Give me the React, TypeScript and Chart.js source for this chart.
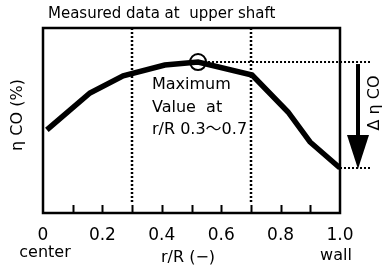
import React, { useEffect, useRef } from "react";
import { Chart, registerables } from "chart.js";

Chart.register(...registerables);

// ---- data ----
const radialPositions = [0.013, 0.158, 0.27, 0.41, 0.522, 0.704, 0.825, 0.899, 1.0];
const etaCO = [44.9, 64.9, 74.1, 80.0, 81.6, 74.6, 54.6, 38.4, 24.3];
const xTickLabels = [0, 0.2, 0.4, 0.6, 0.8, 1.0];
const minorTicks = [0.1, 0.2, 0.3, 0.4, 0.5, 0.6, 0.7, 0.8, 0.9];
const zoneBounds = [0.3, 0.7];
const titleText = "Measured data at  upper shaft";
const yAxisTitle = "η CO (%)";
const xAxisTitle = "r/R (−)";
const xEndLabels = ["center", "wall"];
const noteLines = ["Maximum", "Value  at", "r/R 0.3～0.7"];
const deltaLabel = "Δ η CO";

const FONT = "'DejaVu Sans', 'Noto Sans CJK JP', sans-serif";

const peakIndex = etaCO.indexOf(Math.max(...etaCO));

const decorPlugin = {
  id: "decor",
  beforeDatasetsDraw(chart: any) {
    const { ctx, chartArea: a, scales } = chart;
    const xs = scales.x;
    ctx.save();
    ctx.strokeStyle = "#000";
    ctx.lineWidth = 2.5;
    ctx.setLineDash([]);
    ctx.strokeRect(a.left, a.top, a.right - a.left, a.bottom - a.top);
    ctx.lineWidth = 2;
    minorTicks.forEach((v) => {
      const px = Math.round(xs.getPixelForValue(v)) + 0.5;
      ctx.beginPath();
      ctx.moveTo(px, a.bottom);
      ctx.lineTo(px, a.bottom - 8);
      ctx.stroke();
    });
    ctx.lineWidth = 2.5;
    ctx.setLineDash([2, 2]);
    zoneBounds.forEach((v) => {
      const px = Math.round(xs.getPixelForValue(v));
      ctx.beginPath();
      ctx.moveTo(px, a.top);
      ctx.lineTo(px, a.bottom - 9);
      ctx.stroke();
    });
    ctx.restore();
  },
  afterDraw(chart: any) {
    const { ctx, chartArea: a, scales } = chart;
    const xs = scales.x;
    const ys = scales.y;
    const peakX = xs.getPixelForValue(radialPositions[peakIndex]);
    const peakY = ys.getPixelForValue(etaCO[peakIndex]);
    const wallY = ys.getPixelForValue(etaCO[etaCO.length - 1]);
    const ext = a.right + 30;
    ctx.save();
    ctx.strokeStyle = "#000";
    ctx.fillStyle = "#000";
    ctx.lineWidth = 2;
    ctx.setLineDash([2, 2]);
    ctx.beginPath();
    ctx.moveTo(peakX + 10, Math.round(peakY));
    ctx.lineTo(ext, Math.round(peakY));
    ctx.moveTo(a.right, Math.round(wallY));
    ctx.lineTo(ext, Math.round(wallY));
    ctx.stroke();
    ctx.setLineDash([]);
    const ax = a.right + 18;
    ctx.lineWidth = 4;
    ctx.beginPath();
    ctx.moveTo(ax, peakY + 2);
    ctx.lineTo(ax, wallY - 30);
    ctx.stroke();
    ctx.beginPath();
    ctx.moveTo(ax - 11, wallY - 33);
    ctx.lineTo(ax + 11, wallY - 33);
    ctx.lineTo(ax, wallY + 1);
    ctx.closePath();
    ctx.fill();

    ctx.textBaseline = "middle";
    ctx.font = `15px ${FONT}`;
    ctx.textAlign = "left";
    ctx.fillText(titleText, 48, 14);

    ctx.font = `16px ${FONT}`;
    noteLines.forEach((t, i) => {
      ctx.fillText(t, 152, 85 + i * 22.5);
    });

    ctx.textAlign = "center";
    ctx.fillText(xEndLabels[0], 45, 253);
    ctx.fillText(xEndLabels[1], 336, 256);
    ctx.fillText(xAxisTitle, 188, 258);

    ctx.save();
    ctx.translate(18, 115);
    ctx.rotate(-Math.PI / 2);
    ctx.fillText(yAxisTitle, 0, 0);
    ctx.restore();

    ctx.save();
    ctx.translate(375, (peakY + wallY) / 2 - 12);
    ctx.rotate(-Math.PI / 2);
    ctx.fillText(deltaLabel, 0, 0);
    ctx.restore();

    ctx.restore();
  },
};

export default function App() {
  const ref = useRef<HTMLCanvasElement | null>(null);
  useEffect(() => {
    if (!ref.current) return;
    const chart = new Chart(ref.current, {
      type: "line",
      data: {
        datasets: [
          {
            data: radialPositions.map((x, i) => ({ x, y: etaCO[i] })),
            borderColor: "#000",
            borderWidth: 5.5,
            pointRadius: 0,
            tension: 0,
            fill: false,
            borderJoinStyle: "miter",
          },
          {
            data: [{ x: radialPositions[peakIndex], y: etaCO[peakIndex] }],
            borderColor: "#000",
            backgroundColor: "rgba(0,0,0,0)",
            pointRadius: 8,
            pointBorderWidth: 2,
            showLine: false,
          },
        ],
      },
      options: {
        animation: false,
        responsive: false,
        layout: { padding: { left: 43, right: 42, top: 28, bottom: 0 } },
        plugins: { legend: { display: false }, tooltip: { enabled: false }, title: { display: false } },
        scales: {
          x: {
            type: "linear",
            min: 0,
            max: 1,
            grid: { display: false },
            border: { display: false },
            afterBuildTicks: (s: any) => {
              s.ticks = xTickLabels.map((v) => ({ value: v }));
            },
            afterFit: (s: any) => {
              s.height = 58;
            },
            ticks: {
              color: "#000",
              font: { family: FONT, size: 17 },
              padding: 4,
              maxRotation: 0,
              autoSkip: false,
              callback: (v: any) => (v === 0 ? "0" : Number(v).toFixed(1)),
            },
          },
          y: {
            type: "linear",
            min: 0,
            max: 100,
            display: false,
          },
        },
      },
      plugins: [decorPlugin],
    } as any);
    return () => chart.destroy();
  }, []);
  return (
    <div style={{ position: "fixed", left: 0, top: 0, width: 382, height: 271, background: "#fff" }}>
      <canvas ref={ref} width={382} height={271} style={{ display: "block" }} />
    </div>
  );
}
